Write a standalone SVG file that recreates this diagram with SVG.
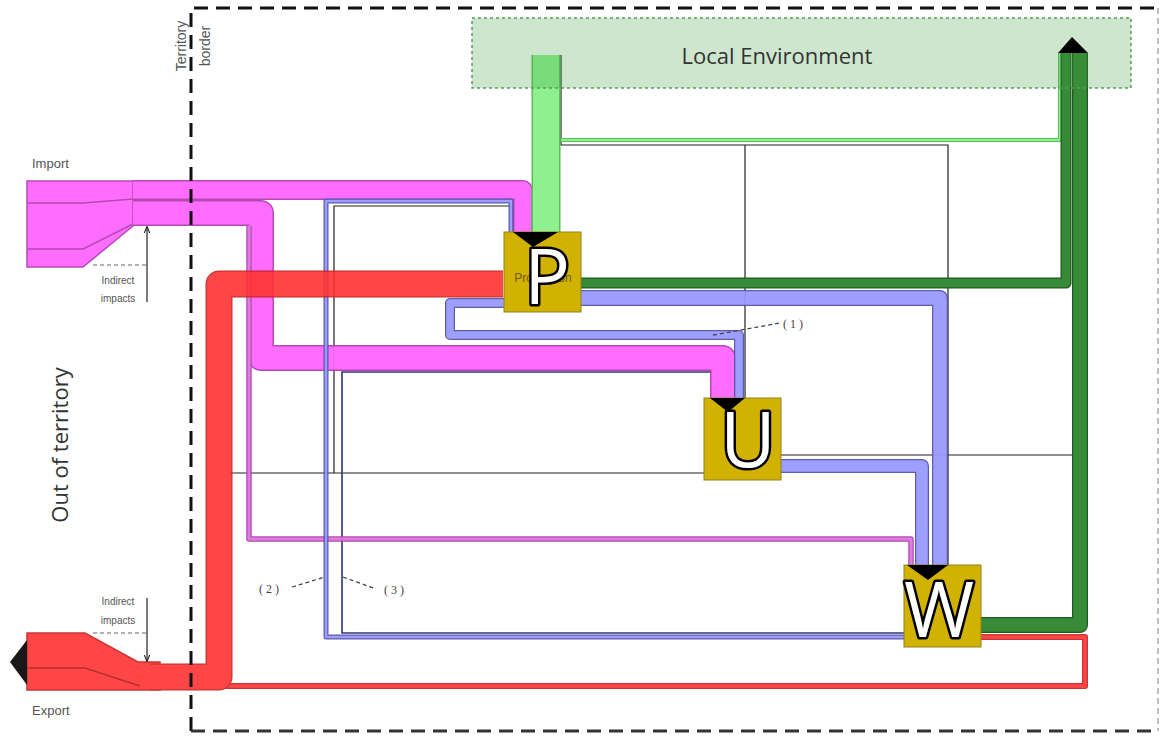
<svg xmlns="http://www.w3.org/2000/svg" xmlns:xlink="http://www.w3.org/1999/xlink" width="1161" height="736" viewBox="0 0 1161 736">
<style>
.o{fill:none;stroke-linejoin:round;stroke-linecap:butt}
.pk{stroke:#ff66ff}.pko{stroke:#b040b0}
.bl{stroke:#9999ff}.blo{stroke:#5555aa}
.rd{stroke:#ff3333}.rdo{stroke:#c42020}
.gr{stroke:#378a37}.gro{stroke:#1f5a1f}
.lg{stroke:#8ef08e}.lgo{stroke:#5cbf5c}
.thin{fill:none;stroke:#222;stroke-width:1.2}
.node{fill:#d1b200;stroke:#8f8120;stroke-width:1}
.big{font-family:'Open Sans','DejaVu Sans',sans-serif;font-size:76px;fill:#fff;stroke:#000;stroke-width:5;paint-order:stroke;stroke-linejoin:round;text-anchor:middle}
.lbl{font-family:'Liberation Sans',Arial,sans-serif;fill:#555}
.num{font-family:'Liberation Serif','Times New Roman',serif;font-size:12px;fill:#444;letter-spacing:3px}
.lead{fill:none;stroke:#444;stroke-width:1.3;stroke-dasharray:4 3}
.tip{fill:#000}
</style>
<defs>
<path id="p1" d="M133,190 H523 V232"/>
<path id="p2" d="M133,213 H261 V358 H723 V398"/>
<path id="p3" d="M249,226 V539 H911 V565"/>
<path id="b1" d="M581,298 H940 V565"/>
<path id="b2" d="M505,303 H450 V335 H739 V398"/>
<path id="b3" d="M781,466 H922 V565"/>
<path id="b4" d="M511,232 V201 H326 V637 H904"/>
<path id="r1" d="M503,284 H219 V677 H150"/>
<path id="r2" d="M981,637 H1085 V686 H215"/>
<path id="g1" d="M581,283 H1066 V53"/>
<path id="g2" d="M981,625 H1080 V53"/>
<path id="lg1" d="M546,55 V232"/>
<path id="lg2" d="M1060,53 V140 H561"/>
<marker id="ah" viewBox="0 0 10 10" refX="9" refY="5" markerWidth="6" markerHeight="6" orient="auto-start-reverse"><path d="M0,1 L10,5 L0,9" fill="none" stroke="#222" stroke-width="1.5"/></marker>
</defs>
<rect x="0" y="0" width="1161" height="736" fill="#fff"/>

<g id="connectors">
  <path class="thin" d="M561,55 V145 H948 V565"/>
  <path class="thin" d="M745,145 V398"/>
  <path class="thin" d="M230,473 H705"/>
  <path class="thin" d="M513,232 V206 H334 V473" stroke="#2a3a2a"/>
  <path class="thin" d="M712,372 H342 V633 H904" style="stroke:#33337a;stroke-width:1.6"/>
  <path class="thin" d="M781,455 H1073"/>

  <g id="import-flow" opacity="0.95">
    <polygon points="27,181 133,181 133,226 83,267 27,267" fill="#ff66ff" stroke="#b040b0" stroke-width="1.5"/>
    <polyline points="27,203 83,203 133,199" fill="none" stroke="#b040b0" stroke-width="1.5"/>
    <polyline points="27,249 83,249 133,224" fill="none" stroke="#b040b0" stroke-width="1.5"/>
    <use xlink:href="#p1" class="o pko" stroke-width="20"/>
    <use xlink:href="#p1" class="o pk" stroke-width="17"/>
    <use xlink:href="#p2" class="o pko" stroke-width="26"/>
    <use xlink:href="#p2" class="o pk" stroke-width="23"/>
    <use xlink:href="#p3" class="o pko" stroke-width="5.5"/>
    <use xlink:href="#p3" class="o" stroke="#dd77dd" stroke-width="3"/>
  </g>

  <g id="blue-flows" opacity="0.95">
    <use xlink:href="#b4" class="o blo" stroke-width="5"/>
    <use xlink:href="#b4" class="o bl" stroke-width="2.5"/>
    <use xlink:href="#b1" class="o blo" stroke-width="16"/>
    <use xlink:href="#b1" class="o bl" stroke-width="13.5"/>
    <use xlink:href="#b2" class="o blo" stroke-width="10"/>
    <use xlink:href="#b2" class="o bl" stroke-width="7.5"/>
    <use xlink:href="#b3" class="o blo" stroke-width="14"/>
    <use xlink:href="#b3" class="o bl" stroke-width="11.5"/>
  </g>

  <g id="light-green-flows">
    <use xlink:href="#lg1" class="o lgo" stroke-width="29"/>
    <use xlink:href="#lg1" class="o lg" stroke-width="26"/>
    <use xlink:href="#lg2" class="o lgo" stroke-width="4"/>
    <use xlink:href="#lg2" class="o lg" stroke-width="2"/>
  </g>

  <g id="red-flows" opacity="0.9">
    <use xlink:href="#r2" class="o rdo" stroke-width="6"/>
    <use xlink:href="#r2" class="o rd" stroke-width="3.5"/>
    <polygon points="27,633 85,633 138,662 160,662 160,690 27,690" fill="#ff3333" stroke="#c42020" stroke-width="1.5"/>
    <use xlink:href="#r1" class="o rdo" stroke-width="27"/>
    <use xlink:href="#r1" class="o rd" stroke-width="24.5"/>
    <polyline points="27,668 85,668 140,686" fill="none" stroke="#b01818" stroke-width="1.5"/>
    <polygon class="tip" points="10,662 27,640 27,685"/>
  </g>

  <g id="green-flows">
    <use xlink:href="#g2" class="o gro" stroke-width="16"/>
    <use xlink:href="#g2" class="o gr" stroke-width="13.5"/>
    <use xlink:href="#g1" class="o gro" stroke-width="11"/>
    <use xlink:href="#g1" class="o gr" stroke-width="8.5"/>
  </g>

  <path class="lead" d="M713,335 L780,323"/>
  <path class="lead" d="M292,587 L325,577"/>
  <path class="lead" d="M343,577 L376,589"/>
</g>

<g id="local-environment">
  <rect x="472" y="18" width="659" height="70" fill="#3c9a3c" fill-opacity="0.25" stroke="#5a9a5a" stroke-width="1.5" stroke-dasharray="3 3"/>
  <text x="777" y="64" text-anchor="middle" font-family="'Open Sans','DejaVu Sans',sans-serif" font-size="22" fill="#333">Local Environment</text>
  <polygon class="tip" points="1058,53 1072,37 1088,53"/>
</g>

<g id="node-P">
  <rect class="node" x="504" y="232" width="77" height="80"/>
  <polygon class="tip" points="513,232 558,232 533,247"/>
  <text x="543" y="282" text-anchor="middle" font-family="'Liberation Sans',Arial,sans-serif" font-size="12" fill="#6e5d10">Production</text>
  <text class="big" x="547" y="304">P</text>
</g>
<g id="node-U">
  <rect class="node" x="704" y="398" width="77" height="82"/>
  <polygon class="tip" points="710,398 745,398 728,412"/>
  <text class="big" x="748" y="467">U</text>
</g>
<g id="node-W">
  <rect class="node" x="904" y="565" width="77" height="82"/>
  <polygon class="tip" points="907,565 948,565 928,580"/>
  <text class="big" x="939" y="637">W</text>
</g>

<g id="territory-border">
  <path d="M191,731 V8 H1158" fill="none" stroke="#111" stroke-width="3" stroke-dasharray="14 8"/>
  <path d="M191,731 H1158" fill="none" stroke="#333" stroke-width="3" stroke-dasharray="14 8"/>
  <path d="M1158,8 V731" fill="none" stroke="#aaa" stroke-width="1.5" stroke-dasharray="6 4"/>
  <text transform="translate(186,46) rotate(-90)" text-anchor="middle" class="lbl" font-size="14" fill="#444">Territory</text>
  <text transform="translate(210,46) rotate(-90)" text-anchor="middle" class="lbl" font-size="14" fill="#444">border</text>
</g>

<g id="labels">
  <text x="32" y="168" class="lbl" font-size="13">Import</text>
  <text x="32" y="715" class="lbl" font-size="13">Export</text>
  <text transform="translate(68,445) rotate(-90)" text-anchor="middle" font-family="'Open Sans','DejaVu Sans',sans-serif" font-size="22" fill="#333">Out of territory</text>
  <text x="118" y="284" text-anchor="middle" class="lbl" font-size="10">Indirect</text>
  <text x="118" y="302" text-anchor="middle" class="lbl" font-size="10">impacts</text>
  <line x1="147" y1="302" x2="147" y2="227" stroke="#222" stroke-width="1.2" marker-end="url(#ah)"/>
  <line x1="93" y1="265" x2="146" y2="265" stroke="#999" stroke-width="1.5" stroke-dasharray="4 3"/>
  <text x="118" y="605" text-anchor="middle" class="lbl" font-size="10">Indirect</text>
  <text x="118" y="624" text-anchor="middle" class="lbl" font-size="10">impacts</text>
  <line x1="147" y1="598" x2="147" y2="661" stroke="#222" stroke-width="1.2" marker-end="url(#ah)"/>
  <line x1="93" y1="633" x2="146" y2="633" stroke="#999" stroke-width="1.5" stroke-dasharray="4 3"/>
  <text x="783" y="328" class="num">(1)</text>
  <text x="259" y="593" class="num">(2)</text>
  <text x="384" y="594" class="num">(3)</text>
</g>
</svg>
